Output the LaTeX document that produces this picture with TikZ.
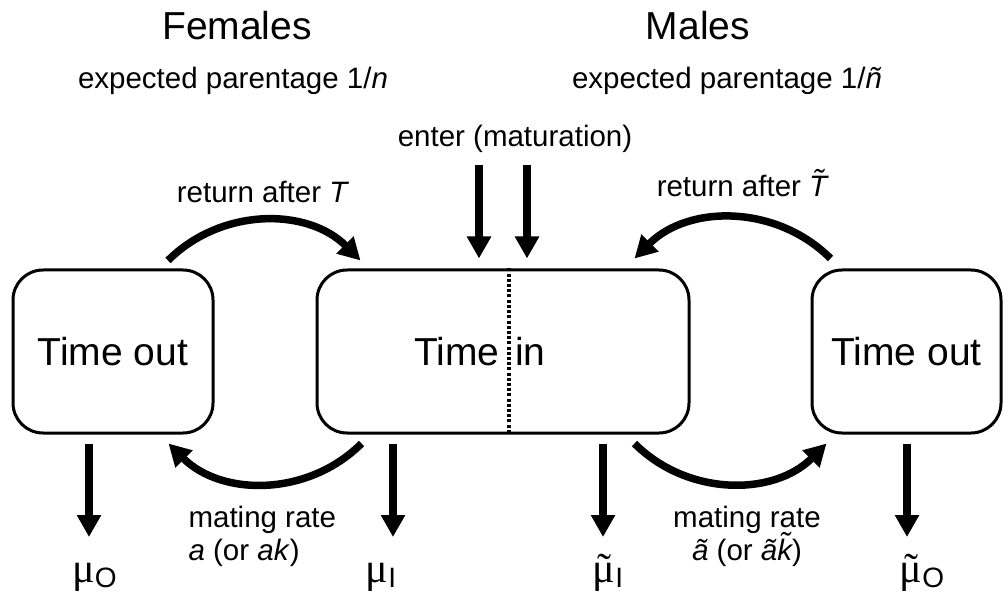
\documentclass[tikz,border=0pt]{standalone}
\usepackage{fontspec}
\setmainfont{Liberation Sans}
\newfontfamily\mufont{Liberation Serif}
\usetikzlibrary{arrows.meta}
\newcommand\tld[2][0pt]{\ooalign{#2\cr\hidewidth\raisebox{#1}{˜}\hidewidth\cr}}
\newcommand\mulab[2]{{\fontsize{42}{42}\selectfont\mufont #1}\lower5pt\hbox{\fontsize{28}{28}\selectfont #2}}
\begin{document}
\begin{tikzpicture}[x=1pt,y=1pt,
  box/.style={draw,line width=3pt,rounded corners=30pt,minimum height=163pt,font=\bigf},
  flow/.style={line width=7.5pt,-{Triangle[length=22pt,width=23pt]}},
  lbl/.style={font=\smallf,anchor=base}]
\def\bigf{\fontsize{39}{47}\selectfont}
\def\smallf{\fontsize{29.5}{33}\selectfont}
\useasboundingbox (0,0) rectangle (1003,595);

\node[lbl,font=\bigf] (fem) at (237,555) {Females};
\node[lbl,font=\bigf] (mal) at (698,555) {Males};
\node[lbl] (fpar) at (233,506) {expected parentage 1/\textit{n}};
\node[lbl] (mpar) at (727,506) {expected parentage 1/\textit{ñ}};

% the three compartments
\node[box,minimum width=200pt] (fout) at (113,243.5) {Time out};
\node[box,minimum width=372pt,label={[xshift=-23pt,font=\bigf]center:Time\hspace{5pt} in}] (tin) at (503,243.5) {};
\node[box,minimum width=189pt] (mout) at (906.5,243.5) {Time out};
\coordinate (split) at (509,243.5);
\draw[line width=3.5pt,dash pattern=on 3pt off 2.2pt] (split |- tin.north) -- (split |- tin.south);

% maturation
\node[lbl] (enter) at (515,448) {enter (maturation)};
\coordinate (enA) at (479,430);
\coordinate (enB) at (527,430);
\draw[flow,shorten >=10pt] (enA) -- (enA |- tin.north);
\draw[flow,shorten >=10pt] (enB) -- (enB |- tin.north);

% return and mating
\node[lbl] (fret) at (263,392) {return after \textit{T}};
\node[lbl] (mret) at (742,398) {return after \textit{\tld[0.22em]{T}}};
\draw[flow] ([xshift=55pt,yshift=8pt]fout.north) to[bend left=45] ([xshift=45pt,yshift=8pt]tin.north west);
\draw[flow] ([xshift=-76pt,yshift=10pt]mout.north) to[bend right=45] ([xshift=-56pt,yshift=10pt]tin.north east);
\draw[flow] ([xshift=46pt,yshift=-9pt]tin.south west) to[bend left=45] ([xshift=-46pt,yshift=-9pt]fout.south east);
\draw[flow] ([xshift=-56pt,yshift=-9pt]tin.south east) to[bend right=45] ([xshift=16pt,yshift=-9pt]mout.south west);
\node[lbl,anchor=base west,align=left] (fmate) at (185,35) {mating rate\\\textit{a} (or \textit{ak})};
\node[lbl,align=center] (mmate) at (747,35) {mating rate\\\textit{ã} (or \textit{ã\tld[0.22em]{k}})};

% deaths
\coordinate (dFO) at (89,58);
\coordinate (dFI) at (393,58);
\coordinate (dMI) at (603,58);
\coordinate (dMO) at (907,58);
\draw[flow,shorten <=9pt] (dFO |- fout.south) -- (dFO);
\draw[flow,shorten <=9pt] (dFI |- tin.south) -- (dFI);
\draw[flow,shorten <=9pt] (dMI |- tin.south) -- (dMI);
\draw[flow,shorten <=9pt] (dMO |- mout.south) -- (dMO);
\node[anchor=base] (muFO) at (94.5,13) {\mulab{μ}{O}};
\node[anchor=base] (muFI) at (381,13) {\mulab{μ}{I}};
\node[anchor=base] (muMI) at (608,13) {\mulab{\tld{μ}}{I}};
\node[anchor=base] (muMO) at (922,13) {\mulab{\tld{μ}}{O}};
\end{tikzpicture}
\end{document}
